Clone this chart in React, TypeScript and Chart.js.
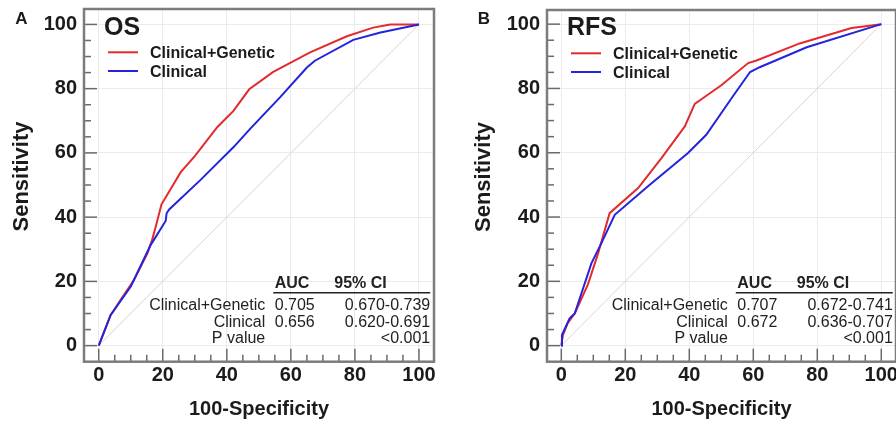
import React, { useEffect, useRef } from "react";
import { Chart, registerables } from "chart.js";

Chart.register(...registerables);

const FONT = "'Liberation Sans', Arial, Helvetica, sans-serif";

// ---------- shared labels ----------
const AXIS_TICKS = [0, 20, 40, 60, 80, 100];
const MINOR_STEP = 5;
const X_TITLE = "100-Specificity";
const Y_TITLE = "Sensitivity";
const SERIES_NAMES = ["Clinical+Genetic", "Clinical"];
const TABLE_HEAD = ["AUC", "95% CI"];
const ROW_LABELS = ["Clinical+Genetic", "Clinical", "P value"];

// ---------- Panel A : OS ----------
const OS_CG_FPR = [0, 3.7, 7, 11, 15.2, 16.7, 17.8, 19.6, 21.4, 25.6, 30, 37, 42, 47, 54.5, 66, 77.5, 85.7, 91, 100];
const OS_CG_TPR = [0, 9.5, 14.5, 20.4, 28.7, 33, 37, 44, 47, 54, 59, 68, 73, 79.8, 85.2, 91.3, 96.3, 99, 100, 100];
const OS_C_FPR = [0, 3.7, 10, 16.2, 20.9, 21.2, 22, 31.8, 42.2, 47.2, 56.6, 65, 67.5, 79.5, 88, 100];
const OS_C_TPR = [0, 9.5, 18.4, 31.3, 38.8, 41.2, 42.4, 51.6, 61.9, 67.4, 77.3, 86.6, 88.7, 95.2, 97.5, 100];
const OS_AUC = ["0.705", "0.656"];
const OS_CI = ["0.670-0.739", "0.620-0.691"];
const OS_P = "<0.001";

// ---------- Panel B : RFS ----------
const RFS_CG_FPR = [0, 0.5, 2, 4.2, 8.3, 11.5, 15.1, 24, 31.3, 38.6, 41.7, 45, 50, 58.4, 61, 74.5, 90.7, 100];
const RFS_CG_TPR = [0, 3.3, 7, 10, 19, 28.7, 41.2, 49, 58.3, 68.2, 75.2, 77.5, 81, 87.9, 88.7, 94, 98.8, 100];
const RFS_C_FPR = [0, 0.2, 2.6, 4.2, 9.4, 12.5, 16.7, 27, 39.6, 45.3, 53.8, 59, 62, 76.7, 100];
const RFS_C_TPR = [0, 3.3, 8.5, 10, 25.6, 31.8, 40.7, 49.5, 59.9, 65.6, 77.8, 85.1, 86.6, 92.8, 100];
const RFS_AUC = ["0.707", "0.672"];
const RFS_CI = ["0.672-0.741", "0.636-0.707"];
const RFS_P = "<0.001";

const DIAG = [0, 100];

const RED = "#e42a2c";
const BLUE = "#2424dc";
const DIAG_COLOR = "#e6cdd2";
const FRAME = "#7c7c7c";
const TEXT = "#1b1b1b";

const W = 448;
const H = 423;

type PanelCfg = {
  left: number;
  letter: string;
  letterX: number;
  title: string;
  chartLeft: number;
  padRight: number;
  padTop: number;
  chartBottom: number;
  xMin: number;
  xMax: number;
  yMin: number;
  yMax: number;
  yTitleX: number;
  yTitleY: number;
  cg: [number[], number[]];
  cl: [number[], number[]];
  auc: string[];
  ci: string[];
  p: string;
};

const PANELS: PanelCfg[] = [
  {
    left: 0, letter: "A", letterX: 21.5, title: "OS",
    chartLeft: 84, padRight: 14, padTop: 9, chartBottom: 361.7,
    xMin: -4.6, xMax: 104.7, yMin: -5, yMax: 104.8,
    yTitleX: 22, yTitleY: 176.5,
    cg: [OS_CG_FPR, OS_CG_TPR], cl: [OS_C_FPR, OS_C_TPR],
    auc: OS_AUC, ci: OS_CI, p: OS_P,
  },
  {
    left: 448, letter: "B", letterX: 36, title: "RFS",
    chartLeft: 99, padRight: 0, padTop: 10, chartBottom: 361.7,
    xMin: -4.47, xMax: 104.6, yMin: -5, yMax: 104.4,
    yTitleX: 36, yTitleY: 177,
    cg: [RFS_CG_FPR, RFS_CG_TPR], cl: [RFS_C_FPR, RFS_C_TPR],
    auc: RFS_AUC, ci: RFS_CI, p: RFS_P,
  },
];

const pts = (xs: number[], ys: number[]) => xs.map((x, i) => ({ x, y: ys[i] }));

function zeroPad(s: any) {
  s.paddingTop = 0;
  s.paddingBottom = 0;
  s.paddingLeft = 0;
  s.paddingRight = 0;
}

function makeDecor(cfg: PanelCfg) {
  return {
    id: "decor" + cfg.letter,
    afterDraw(chart: any) {
      const ctx: CanvasRenderingContext2D = chart.ctx;
      const { left, top, right, bottom } = chart.chartArea;
      const xs = chart.scales.x;
      const ys = chart.scales.y;
      ctx.save();

      // tick marks (inside the frame)
      ctx.strokeStyle = "#6a6a6a";
      ctx.lineWidth = 1.5;
      for (let v = 0; v <= 100; v += MINOR_STEP) {
        const len = v % 20 === 0 ? 13 : 7;
        const px = xs.getPixelForValue(v);
        ctx.beginPath();
        ctx.moveTo(px, bottom);
        ctx.lineTo(px, bottom - len);
        ctx.stroke();
        const py = ys.getPixelForValue(v);
        ctx.beginPath();
        ctx.moveTo(left, py);
        ctx.lineTo(left + len, py);
        ctx.stroke();
      }

      // frame
      ctx.strokeStyle = FRAME;
      ctx.lineWidth = 2.5;
      ctx.strokeRect(left, top, right - left, bottom - top);

      // panel letter
      ctx.fillStyle = TEXT;
      ctx.textAlign = "center";
      ctx.textBaseline = "middle";
      ctx.font = `bold 17px ${FONT}`;
      ctx.fillText(cfg.letter, cfg.letterX, 19);

      // y title
      ctx.save();
      ctx.translate(cfg.yTitleX, cfg.yTitleY);
      ctx.rotate(-Math.PI / 2);
      ctx.font = `bold 22px ${FONT}`;
      ctx.fillText(Y_TITLE, 0, 0);
      ctx.restore();

      // panel title
      ctx.textAlign = "left";
      ctx.textBaseline = "alphabetic";
      ctx.font = `bold 25px ${FONT}`;
      ctx.fillText(cfg.title, left + 20, 35);

      // legend
      const ds = chart.data.datasets;
      const legendY = [top + 43.3, top + 62];
      [0, 1].forEach((i) => {
        const y = legendY[i];
        ctx.strokeStyle = ds[i].borderColor;
        ctx.lineWidth = 2;
        ctx.beginPath();
        ctx.moveTo(left + 24, y);
        ctx.lineTo(left + 54, y);
        ctx.stroke();
        ctx.fillStyle = TEXT;
        ctx.font = `bold 16px ${FONT}`;
        ctx.fillText(ds[i].label, left + 66, y + 5.7);
      });

      // AUC table
      const x0 = xs.getPixelForValue(0);
      const y0 = ys.getPixelForValue(0);
      const labelRight = x0 + 166.5;
      const valLeft = x0 + 176;
      const ciLeft = x0 + 235.5;
      const ciRight = x0 + 331.5;
      ctx.fillStyle = "#222";
      ctx.font = `bold 16px ${FONT}`;
      ctx.textAlign = "left";
      ctx.fillText(TABLE_HEAD[0], valLeft, y0 - 57.2);
      ctx.fillText(TABLE_HEAD[1], ciLeft, y0 - 57.2);
      ctx.strokeStyle = "#222";
      ctx.lineWidth = 1.5;
      ctx.beginPath();
      ctx.moveTo(x0 + 174.5, y0 - 53);
      ctx.lineTo(ciRight, y0 - 53);
      ctx.stroke();
      ctx.font = `16px ${FONT}`;
      const rowY = [y0 - 35.5, y0 - 18.5, y0 - 2.5];
      ROW_LABELS.forEach((lab, i) => {
        ctx.textAlign = "right";
        ctx.fillText(lab, labelRight, rowY[i]);
      });
      [0, 1].forEach((i) => {
        ctx.textAlign = "left";
        ctx.fillText(cfg.auc[i], valLeft, rowY[i]);
        ctx.textAlign = "right";
        ctx.fillText(cfg.ci[i], ciRight, rowY[i]);
      });
      ctx.textAlign = "right";
      ctx.fillText(cfg.p, ciRight, rowY[2]);

      ctx.restore();
    },
  };
}

function Panel({ cfg }: { cfg: PanelCfg }) {
  const ref = useRef<HTMLCanvasElement>(null);
  useEffect(() => {
    const chart = new Chart(ref.current as HTMLCanvasElement, {
      type: "line",
      data: {
        datasets: [
          {
            label: SERIES_NAMES[0],
            data: pts(cfg.cg[0], cfg.cg[1]),
            borderColor: RED,
            backgroundColor: RED,
            borderWidth: 2,
            pointRadius: 0,
            tension: 0,
            order: 1,
          },
          {
            label: SERIES_NAMES[1],
            data: pts(cfg.cl[0], cfg.cl[1]),
            borderColor: BLUE,
            backgroundColor: BLUE,
            borderWidth: 2,
            pointRadius: 0,
            tension: 0,
            order: 0,
          },
          {
            label: "diagonal",
            data: pts(DIAG, DIAG),
            borderColor: DIAG_COLOR,
            borderWidth: 1,
            pointRadius: 0,
            tension: 0,
            order: 2,
          },
        ],
      },
      options: {
        responsive: false,
        devicePixelRatio: 1,
        animation: false,
        events: [],
        layout: { padding: { left: 0, right: cfg.padRight, top: cfg.padTop, bottom: 0 } },
        plugins: { legend: { display: false }, tooltip: { enabled: false } },
        scales: {
          x: {
            type: "linear",
            min: cfg.xMin,
            max: cfg.xMax,
            afterBuildTicks: (s: any) => {
              s.ticks = AXIS_TICKS.map((v) => ({ value: v }));
            },
            afterFit: (s: any) => {
              s.height = H - cfg.chartBottom;
              zeroPad(s);
            },
            grid: { color: "#ebebeb", lineWidth: 1, drawTicks: false },
            border: { display: false },
            ticks: {
              padding: 2,
              color: TEXT,
              font: { family: FONT, size: 20, weight: "bold" },
              maxRotation: 0,
            },
            title: {
              display: true,
              text: X_TITLE,
              color: TEXT,
              font: { family: FONT, size: 20, weight: "bold" },
              padding: { top: 0, bottom: 2 },
            },
          },
          y: {
            type: "linear",
            min: cfg.yMin,
            max: cfg.yMax,
            afterBuildTicks: (s: any) => {
              s.ticks = AXIS_TICKS.map((v) => ({ value: v }));
            },
            afterFit: (s: any) => {
              s.width = cfg.chartLeft;
              zeroPad(s);
            },
            grid: { color: "#ebebeb", lineWidth: 1, drawTicks: false },
            border: { display: false },
            ticks: {
              padding: 7,
              color: TEXT,
              font: { family: FONT, size: 20, weight: "bold" },
            },
          },
        },
      },
      plugins: [makeDecor(cfg)],
    } as any);
    return () => chart.destroy();
  }, []);
  return (
    <canvas
      ref={ref}
      width={W}
      height={H}
      style={{ position: "absolute", left: cfg.left, top: 0, width: W, height: H }}
    />
  );
}

export default function App() {
  return (
    <div
      style={{
        position: "fixed",
        left: 0,
        top: 0,
        width: 896,
        height: 423,
        background: "#ffffff",
        overflow: "hidden",
      }}
    >
      {PANELS.map((p) => (
        <Panel key={p.letter} cfg={p} />
      ))}
    </div>
  );
}
